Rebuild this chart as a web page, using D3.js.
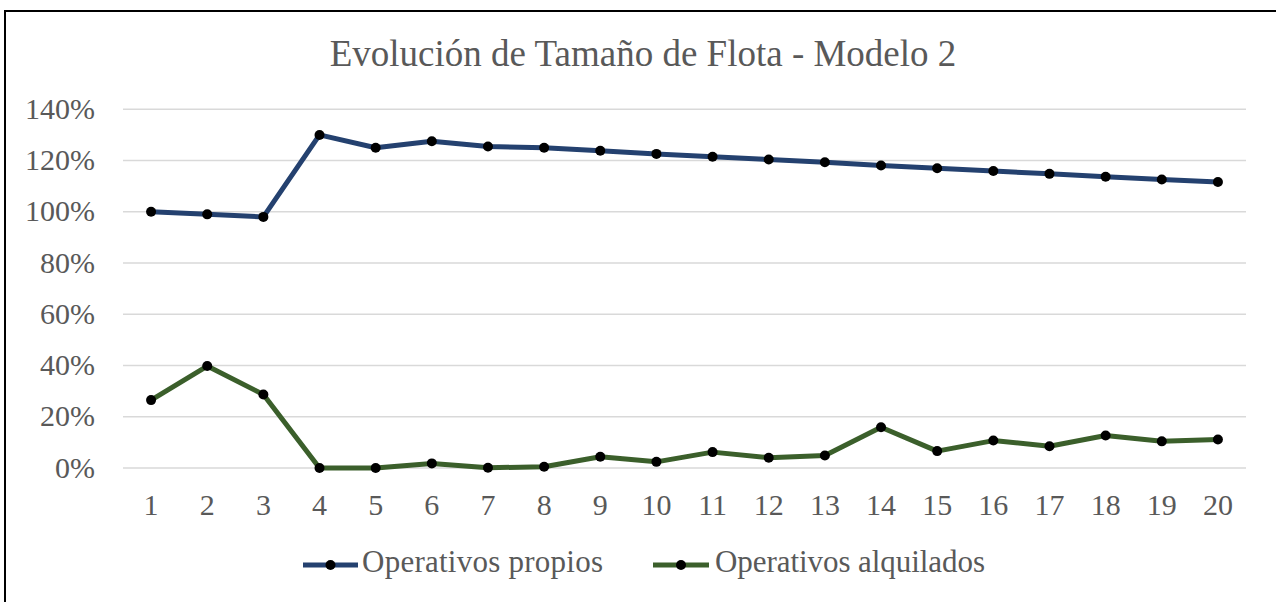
<!DOCTYPE html>
<html>
<head>
<meta charset="utf-8">
<script src="https://cdn.jsdelivr.net/npm/d3@7"></script>
<style>
  html, body { margin: 0; padding: 0; background: #fff; }
  svg { display: block; }
</style>
</head>
<body>
<svg id="chart" width="1276" height="602"></svg>
<script>
const categories = ["1","2","3","4","5","6","7","8","9","10","11","12","13","14","15","16","17","18","19","20"];
const propios = [100, 99, 98, 130, 125, 127.5, 125.5, 125, 123.8, 122.6, 121.5, 120.4, 119.3, 118.1, 117, 115.9, 114.8, 113.7, 112.6, 111.6];
const alquilados = [26.5, 39.8, 28.7, 0, 0, 1.8, 0.1, 0.5, 4.4, 2.4, 6.2, 4.0, 4.9, 15.9, 6.6, 10.7, 8.5, 12.7, 10.4, 11.1];
const yTicks = [0, 20, 40, 60, 80, 100, 120, 140];
const seriesNames = ["Operativos propios", "Operativos alquilados"];
const seriesColors = ["#24416f", "#3b5f2b"];
const title = "Evolución de Tamaño de Flota - Modelo 2";

const svg = d3.select("#chart");
const font = "'Liberation Serif', 'DejaVu Serif', serif";
const textColor = "#595959";

// outer border (top/left visible)
svg.append("rect").attr("x", 5).attr("y", 11).attr("width", 1300).attr("height", 640)
  .attr("fill", "none").attr("stroke", "#000").attr("stroke-width", 2);

const x = d3.scaleBand().domain(categories).range([123, 1246]).padding(0);
const y = d3.scaleLinear().domain([0, 140]).range([468, 109.3]);

// title
svg.append("text").attr("x", 643).attr("y", 66).attr("text-anchor", "middle")
  .attr("font-family", font).attr("font-size", 37).attr("fill", textColor).text(title);

// gridlines
svg.append("g").selectAll("line").data(yTicks).join("line")
  .attr("x1", 123).attr("x2", 1246)
  .attr("y1", d => y(d)).attr("y2", d => y(d))
  .attr("stroke", "#d9d9d9").attr("stroke-width", 1.6);

// y axis labels
const yAxis = d3.axisLeft(y).tickValues(yTicks).tickFormat(d => d + "%").tickSize(0).tickPadding(0);
const gy = svg.append("g").attr("transform", "translate(95,0)").call(yAxis);
gy.select(".domain").remove();
gy.selectAll("text").attr("font-family", font).attr("font-size", 30).attr("fill", textColor)
  .attr("dy", null).attr("dominant-baseline", "auto")
  .attr("transform", "translate(0,9)");

// x axis labels
const xAxis = d3.axisBottom(x).tickSize(0).tickPadding(0);
const gx = svg.append("g").attr("transform", "translate(0,0)").call(xAxis);
gx.select(".domain").remove();
gx.selectAll("text").attr("font-family", font).attr("font-size", 30).attr("fill", textColor)
  .attr("dy", null).attr("y", 515);

const cx = d => x(d) + x.bandwidth() / 2;
const seriesData = [propios, alquilados];

seriesData.forEach((vals, i) => {
  const pts = categories.map((c, j) => [cx(c), y(vals[j])]);
  svg.append("path").datum(pts)
    .attr("d", d3.line())
    .attr("fill", "none").attr("stroke", seriesColors[i]).attr("stroke-width", 5)
    .attr("stroke-linejoin", "round");
  svg.append("g").selectAll("circle").data(pts).join("circle")
    .attr("cx", d => d[0]).attr("cy", d => d[1]).attr("r", 5).attr("fill", "#000");
});

// legend
const legendItems = [
  { x0: 303, x1: 358, tx: 362, tl: 241 },
  { x0: 653, x1: 709, tx: 715, tl: 270 }
];
legendItems.forEach((it, i) => {
  svg.append("line").attr("x1", it.x0).attr("x2", it.x1).attr("y1", 565).attr("y2", 565)
    .attr("stroke", seriesColors[i]).attr("stroke-width", 5);
  svg.append("circle").attr("cx", (it.x0 + it.x1) / 2).attr("cy", 565).attr("r", 5).attr("fill", "#000");
  svg.append("text").attr("x", it.tx).attr("y", 572)
    .attr("font-family", font).attr("font-size", 31).attr("fill", textColor)
    .attr("textLength", it.tl).attr("lengthAdjust", "spacing")
    .text(seriesNames[i]);
});
</script>
</body>
</html>
